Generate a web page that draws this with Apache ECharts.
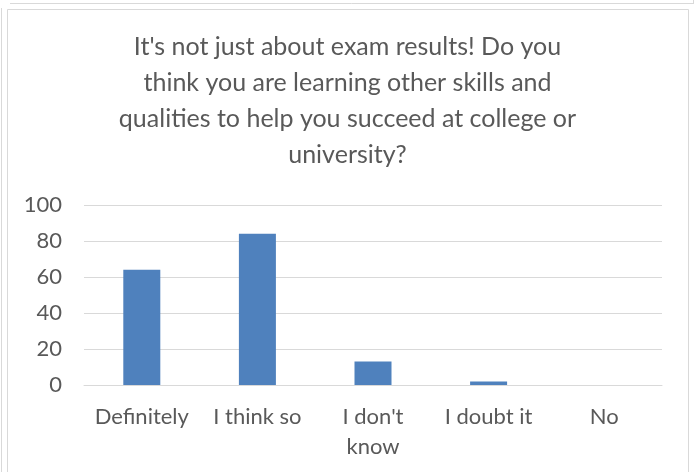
<!DOCTYPE html>
<html>
<head>
<meta charset="utf-8">
<script src="https://cdn.jsdelivr.net/npm/echarts@6/dist/echarts.min.js"></script>
<style>
  html, body { margin: 0; padding: 0; background: #ffffff; }
  #chart { width: 695px; height: 472px; }
</style>
</head>
<body>
<div id="chart"></div>
<script>
// Survey responses
const titleText = "It's not just about exam results! Do you\nthink you are learning other skills and\nqualities to help you succeed at college or\nuniversity?";
const categories = ['Definitely', 'I think so', "I don't\nknow", 'I doubt it', 'No'];
const responses = [64, 84, 13, 2, 0];
const yTicks = { min: 0, max: 100, interval: 20 };

const textColor = '#595959';
const fontFamily = 'Lato, "Open Sans", sans-serif';

const chart = echarts.init(document.getElementById('chart'), null, { renderer: 'canvas' });

chart.setOption({
  backgroundColor: '#ffffff',
  animation: false,
  title: {
    text: titleText,
    left: 'center',
    top: 24,
    textStyle: {
      color: textColor,
      fontFamily: fontFamily,
      fontSize: 25,
      fontWeight: 'normal',
      lineHeight: 36,
      align: 'center'
    }
  },
  grid: {
    left: 84,
    right: 33,
    top: 205,
    bottom: 87,
    containLabel: false
  },
  xAxis: {
    type: 'category',
    data: categories,
    axisLine: { show: true, lineStyle: { color: '#d9d9d9', width: 1 } },
    axisTick: { show: false },
    axisLabel: {
      color: textColor,
      fontFamily: fontFamily,
      fontSize: 22,
      margin: 17,
      lineHeight: 30,
      interval: 0
    }
  },
  yAxis: {
    type: 'value',
    min: yTicks.min,
    max: yTicks.max,
    interval: yTicks.interval,
    axisLine: { show: false },
    axisTick: { show: false },
    splitLine: { lineStyle: { color: '#d9d9d9', width: 1 } },
    axisLabel: {
      color: textColor,
      fontFamily: fontFamily,
      fontSize: 22,
      margin: 22
    }
  },
  series: [{
    type: 'bar',
    data: responses,
    barWidth: 37,
    itemStyle: { color: '#4f81bd' }
  }],
  graphic: [
    { type: 'rect', shape: { x: 7.5, y: 9.5, width: 681, height: 470 }, style: { fill: 'none', stroke: '#d9d9d9', lineWidth: 1 }, silent: true },
    { type: 'line', shape: { x1: 1.5, y1: 8, x2: 1.5, y2: 472 }, style: { stroke: '#d9d9d9', lineWidth: 1 }, silent: true },
    { type: 'line', shape: { x1: 10, y1: 3.5, x2: 693, y2: 3.5 }, style: { stroke: '#d9d9d9', lineWidth: 1 }, silent: true },
    { type: 'line', shape: { x1: 693.5, y1: 0, x2: 693.5, y2: 4 }, style: { stroke: '#d9d9d9', lineWidth: 1 }, silent: true }
  ]
});
</script>
</body>
</html>
